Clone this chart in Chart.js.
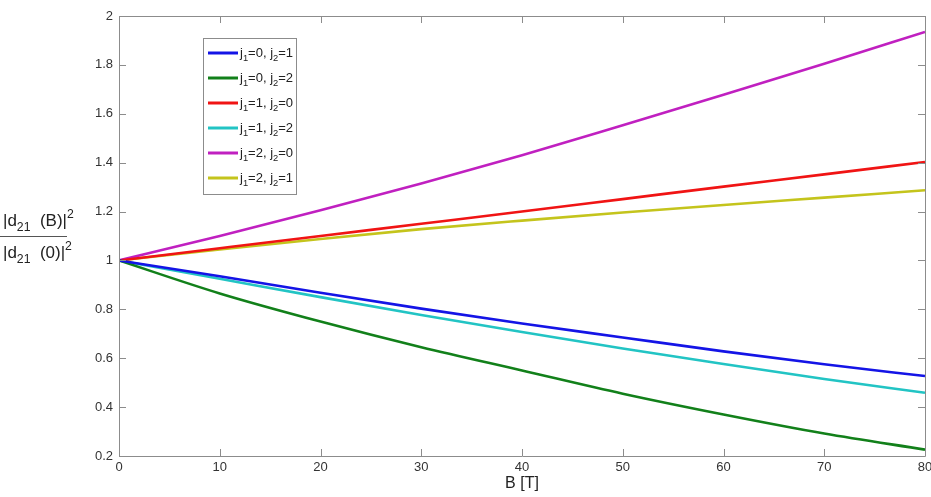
<!DOCTYPE html>
<html>
<head>
<meta charset="utf-8">
<title>|d21(B)|^2 / |d21(0)|^2 vs B</title>
<script src="https://cdn.jsdelivr.net/npm/chart.js@4.4.1/dist/chart.umd.min.js"></script>
<style>
  html, body { margin: 0; padding: 0; background: #fff; }
  canvas { display: block; }
</style>
</head>
<body>
<canvas id="chart" width="931" height="497"></canvas>
<script>
// B field values [T]
const fieldB = [0, 10, 20, 30, 40, 50, 60, 70, 80];

// normalised |d21(B)|^2 / |d21(0)|^2
const j0to1 = [1, 0.935, 0.868, 0.803, 0.742, 0.685, 0.628, 0.575, 0.527];
const j0to2 = [1, 0.865, 0.750, 0.645, 0.550, 0.455, 0.370, 0.292, 0.226];
const j1to0 = [1, 1.050, 1.100, 1.150, 1.200, 1.251, 1.302, 1.352, 1.403];
const j1to2 = [1, 0.925, 0.850, 0.777, 0.707, 0.640, 0.576, 0.515, 0.459];
const j2to0 = [1, 1.100, 1.205, 1.315, 1.430, 1.553, 1.678, 1.805, 1.935];
const j2to1 = [1, 1.045, 1.088, 1.128, 1.163, 1.196, 1.227, 1.257, 1.287];

const j1Values = [0, 0, 1, 1, 2, 2];
const j2Values = [1, 2, 0, 2, 0, 1];
const seriesColors = ['#1414e6', '#12801a', '#f01414', '#22c4c4', '#c020c0', '#c4c41c'];

const xTicks = [0, 10, 20, 30, 40, 50, 60, 70, 80];
const yTicks = [0.2, 0.4, 0.6, 0.8, 1, 1.2, 1.4, 1.6, 1.8, 2];
const xTitle = 'B [T]';

const FONT = '"Liberation Sans", Arial, sans-serif';

function toPoints(values) {
    return values.map((v, i) => ({ x: fieldB[i], y: v }));
}

const allSeries = [j0to1, j0to2, j1to0, j1to2, j2to0, j2to1];

// draws text made of [string, mode] parts; mode 0 normal, 1 subscript, 2 superscript
function drawRich(ctx, parts, x, y, size) {
    let cx = x;
    parts.forEach(([txt, mode]) => {
        let s = size, dy = 0;
        if (mode === 1) { s = size * 0.72; dy = size * 0.32; }
        if (mode === 2) { s = size * 0.72; dy = -size * 0.45; }
        ctx.font = s + 'px ' + FONT;
        ctx.fillText(txt, cx, y + dy);
        cx += ctx.measureText(txt).width;
    });
    return cx - x;
}

const decorPlugin = {
    id: 'matlabDecor',
    afterDraw(chart) {
        const ctx = chart.ctx;
        const a = chart.chartArea;
        const xs = chart.scales.x, ys = chart.scales.y;
        ctx.save();

        // axes box with inward ticks on all sides
        ctx.strokeStyle = '#8c8c8c';
        ctx.lineWidth = 1;
        ctx.beginPath();
        ctx.rect(Math.round(a.left) + 0.5, Math.round(a.top) + 0.5,
                 Math.round(a.right - a.left), Math.round(a.bottom - a.top));
        ctx.stroke();
        ctx.beginPath();
        xTicks.forEach(t => {
            const px = Math.round(xs.getPixelForValue(t)) + 0.5;
            ctx.moveTo(px, a.bottom); ctx.lineTo(px, a.bottom - 7);
            ctx.moveTo(px, a.top); ctx.lineTo(px, a.top + 7);
        });
        yTicks.forEach(t => {
            const py = Math.round(ys.getPixelForValue(t)) + 0.5;
            ctx.moveTo(a.left, py); ctx.lineTo(a.left + 7, py);
            ctx.moveTo(a.right, py); ctx.lineTo(a.right - 7, py);
        });
        ctx.stroke();

        // legend box
        const lx = 203, ly = 38, lw = 93, lh = 156, rowH = 25;
        ctx.fillStyle = '#fff';
        ctx.fillRect(lx, ly, lw, lh);
        ctx.strokeStyle = '#8c8c8c';
        ctx.strokeRect(lx + 0.5, ly + 0.5, lw, lh);
        ctx.textBaseline = 'alphabetic';
        ctx.textAlign = 'left';
        chart.data.datasets.forEach((ds, i) => {
            const y = ly + 15 + i * rowH;
            ctx.strokeStyle = ds.borderColor;
            ctx.lineWidth = 3;
            ctx.beginPath();
            ctx.moveTo(lx + 5, y); ctx.lineTo(lx + 35, y);
            ctx.stroke();
            ctx.fillStyle = '#222';
            drawRich(ctx, [['j', 0], ['1', 1], ['=' + j1Values[i] + ', j', 0], ['2', 1], ['=' + j2Values[i], 0]],
                     lx + 37, y + 4, 13);
        });

        // y axis title as a fraction
        ctx.fillStyle = '#222';
        drawRich(ctx, [['|d', 0], ['21', 1], ['  (B)|', 0], ['2', 2]], 3, 226, 17);
        drawRich(ctx, [['|d', 0], ['21', 1], ['  (0)|', 0], ['2', 2]], 3, 258, 17);
        ctx.strokeStyle = '#555';
        ctx.lineWidth = 1;
        ctx.beginPath();
        ctx.moveTo(0, 236.5); ctx.lineTo(67, 236.5);
        ctx.stroke();

        // x axis title
        ctx.font = '16px ' + FONT;
        ctx.textAlign = 'center';
        ctx.fillText(xTitle, (a.left + a.right) / 2, 488);
        ctx.restore();
    }
};

new Chart(document.getElementById('chart').getContext('2d'), {
    type: 'line',
    data: {
        datasets: allSeries.map((vals, i) => ({
            label: 'j1=' + j1Values[i] + ', j2=' + j2Values[i],
            data: toPoints(vals),
            borderColor: seriesColors[i],
            borderWidth: 2.6,
            pointRadius: 0,
            cubicInterpolationMode: 'monotone',
            fill: false
        }))
    },
    options: {
        responsive: false,
        devicePixelRatio: 1,
        animation: false,
        layout: { padding: { left: 0, right: 6, top: 16, bottom: 0 } },
        plugins: { legend: { display: false }, tooltip: { enabled: false } },
        scales: {
            x: {
                type: 'linear',
                min: 0, max: 80,
                grid: { display: false, drawTicks: false },
                border: { display: false },
                afterBuildTicks: s => { s.ticks = xTicks.map(v => ({ value: v })); },
                afterFit: s => { s.height = 41; s.paddingLeft = 0; s.paddingRight = 0; },
                ticks: {
                    padding: 4,
                    color: '#333',
                    font: { family: FONT, size: 13 },
                    maxRotation: 0,
                    callback: v => String(v)
                }
            },
            y: {
                min: 0.2, max: 2,
                grid: { display: false, drawTicks: false },
                border: { display: false },
                afterBuildTicks: s => { s.ticks = yTicks.map(v => ({ value: v })); },
                afterFit: s => { s.width = 119; s.paddingTop = 0; s.paddingBottom = 0; },
                ticks: {
                    padding: 6,
                    color: '#333',
                    font: { family: FONT, size: 13 },
                    callback: v => String(Number(v.toFixed(1)))
                }
            }
        }
    },
    plugins: [decorPlugin]
});
</script>
</body>
</html>
